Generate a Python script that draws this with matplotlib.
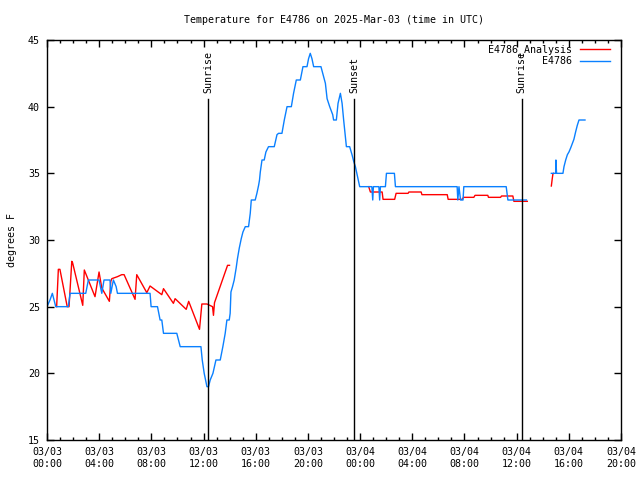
import numpy as np
import pandas as pd
import matplotlib
matplotlib.use("Agg")
import matplotlib.pyplot as plt
import matplotlib.dates as mdates
from matplotlib.ticker import MultipleLocator

start = pd.Timestamp("2025-03-03 00:00")

# hours since 03/03 00:00 UTC, NaN marks a gap in the record
obs_hours = [0.0, 0.23, 0.41, 0.67, 1.63, 1.77, 2.97, 3.17, 3.99, 4.2, 4.37, 4.83, 4.89, 5.09,
             5.3, 5.4, 7.9, 7.98, 8.47, 8.67, 8.8, 8.93, 9.95, 10.21, 11.8, 11.9, 12.05, 12.26,
             12.38, 12.51, 12.72, 12.95, 13.28, 13.48, 13.66, 13.79, 13.97, 14.04, 14.1, 14.22,
             14.35, 14.5, 14.6, 14.74, 14.89, 15.02, 15.2, 15.45, 15.58, 15.66, 15.96, 16.09,
             16.22, 16.29, 16.35, 16.48, 16.65, 16.78, 16.98, 17.42, 17.63, 17.75, 18.01, 18.19,
             18.4, 18.73, 18.9, 19.11, 19.42, 19.62, 19.93, 20.05, 20.18, 20.31, 20.44, 21.0,
             21.2, 21.34, 21.47, 21.67, 21.9, 21.97, 22.18, 22.31, 22.49, 22.62, 22.74, 22.87,
             22.95, 23.2, 23.38, 23.51, 23.64, 23.77, 23.97, 24.9, 24.97, 25.02, 25.44, 25.5,
             25.56, 25.94, 26.02, 26.63, 26.71, 31.44, 31.49, 31.58, 31.7, 31.89, 31.95, 35.2,
             35.33, 36.75, 37.5, 38.66, 38.99, 39.01, 39.06, 39.55, 39.63, 39.76, 39.89, 40.01,
             40.14, 40.27, 40.39, 40.52, 40.65, 40.78, 41.24]
obs_temp = [25.0, 25.5, 26.0, 25.0, 25.0, 26.0, 26.0, 27.0, 27.0, 26.0, 27.0, 27.0, 26.0, 27.0,
            26.5, 26.0, 26.0, 25.0, 25.0, 24.0, 24.0, 23.0, 23.0, 22.0, 22.0, 21.0, 20.0, 19.0,
            19.0, 19.5, 20.0, 21.0, 21.0, 22.0, 23.0, 24.0, 24.0, 24.5, 26.1, 26.5,
            27.0, 27.9, 28.6, 29.4, 30.1, 30.6, 31.0, 31.0, 32.0, 33.0, 33.0, 33.5,
            34.1, 34.5, 35.1, 36.0, 36.0, 36.6, 37.0, 37.0, 37.9, 38.0, 38.0, 39.0,
            40.0, 40.0, 41.0, 42.0, 42.0, 43.0, 43.0, 43.6, 44.0, 43.6, 43.0, 43.0,
            42.25, 41.75, 40.6, 40.0, 39.4, 39.0, 39.0, 40.25, 41.0, 40.25, 39.0, 37.75,
            37.0, 37.0, 36.4, 35.9, 35.5, 34.9, 34.0, 34.0, 33.0, 34.0, 34.0, 33.0,
            34.0, 34.0, 35.0, 35.0, 34.0, 34.0, 33.0, 34.0, 33.0, 33.0, 34.0, 34.0,
            33.0, 33.0, np.nan, 35.0, 35.0, 36.0, 35.0, 35.0, 35.5, 36.0, 36.4, 36.6,
            36.9, 37.25, 37.55, 38.1, 38.6, 39.0, 39.0]

ana_hours = [0.74, 0.87, 0.99, 1.55, 1.69, 1.9, 1.96, 2.74, 2.86, 3.68, 3.99, 4.2, 4.78, 4.89,
             4.97, 5.4, 5.73, 5.91, 6.75, 6.88, 7.65, 7.9, 8.8, 8.93, 9.69, 9.82, 10.67, 10.86,
             11.69, 11.87, 12.26, 12.69, 12.76, 12.84, 13.84, 13.99, 20.0, 24.66, 24.79, 25.69,
             25.76, 26.65, 26.76, 27.68, 27.74, 28.68, 28.74, 30.68, 30.75, 31.83, 31.93, 32.72,
             32.81, 33.79, 33.84, 34.77, 34.84, 35.71, 35.79, 36.82, 37.5, 38.66, 38.73, 38.78,
             38.83]
ana_temp = [25.0, 27.8, 27.8, 25.0, 25.0, 28.4, 28.3, 25.1, 27.75, 25.75, 27.6, 26.4, 25.4, 26.9,
            27.1, 27.25, 27.4, 27.4, 25.55, 27.4, 26.05, 26.55, 25.9, 26.35, 25.25, 25.6, 24.8, 25.4,
            23.3, 25.2, 25.2, 25.0, 24.35, 25.3, 28.1, 28.1, np.nan, 34.0, 33.6, 33.6,
            33.05, 33.05, 33.5, 33.5, 33.6, 33.6, 33.4, 33.4, 33.05, 33.05, 33.2, 33.2,
            33.35, 33.35, 33.2, 33.2, 33.3, 33.3, 32.9, 32.9, np.nan, 34.05, 34.6, 34.95,
            35.0]

events = ["Sunrise", "Sunset", "Sunrise"]
event_hours = [12.36, 23.56, 36.38]

def to_time(hours):
    return start + pd.to_timedelta(hours, unit="h")

mono = "DejaVu Sans Mono"
plt.rcParams["font.family"] = mono
plt.rcParams["font.size"] = 7.2

fig = plt.figure(figsize=(6.4, 4.8), dpi=100)
ax = fig.add_axes([47 / 640, 40 / 480, 574 / 640, 400 / 480])

ax.plot(to_time(ana_hours), ana_temp, color="#ff0000", lw=1.0, label="E4786_Analysis")
ax.plot(to_time(obs_hours), obs_temp, color="#0a80ff", lw=1.0, label="E4786")

for name, h in zip(events, event_hours):
    t = to_time(h)
    ax.plot([t, t], [15, 40.6], color="black", lw=1.0)
    ax.text(t, 41.05, name, rotation=90, ha="center", va="bottom", fontsize=7.2)

ax.set_xlim(start, start + pd.Timedelta(hours=44))
ax.set_ylim(15, 45)
ax.xaxis.set_major_locator(mdates.HourLocator(byhour=range(0, 24, 4)))
ax.xaxis.set_minor_locator(mdates.HourLocator())
ax.xaxis.set_major_formatter(mdates.DateFormatter("%m/%d\n%H:%M"))
ax.yaxis.set_major_locator(MultipleLocator(5))

ax.tick_params(which="both", direction="in", top=True, right=True, width=1.0)
ax.tick_params(which="major", length=5, pad=5)
ax.tick_params(which="minor", length=2.5)
for lbl in ax.get_xticklabels():
    lbl.set_linespacing(1.25)
for sp in ax.spines.values():
    sp.set_linewidth(1.0)

ax.set_title("Temperature for E4786 on 2025-Mar-03 (time in UTC)", fontsize=7.2, pad=12)
ax.set_ylabel("degrees F", labelpad=8)

ax.legend(loc="upper right", bbox_to_anchor=(0.996, 1.012), frameon=False, markerfirst=False,
          handlelength=3.0, handletextpad=0.8, labelspacing=0.12, fontsize=7.2)

fig.savefig("out.png", dpi=100)
